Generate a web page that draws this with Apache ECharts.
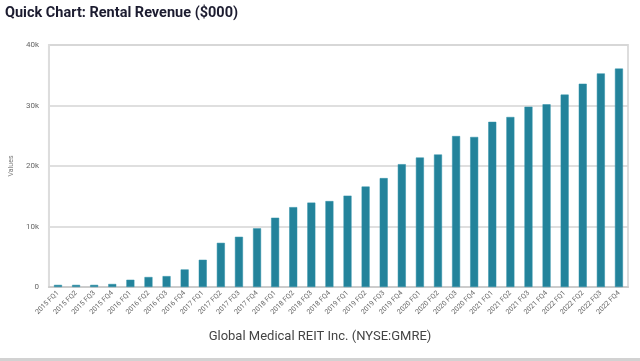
<!DOCTYPE html>
<html>
<head>
<meta charset="utf-8">
<script src="https://cdn.jsdelivr.net/npm/echarts@6/dist/echarts.min.js"></script>
<style>html,body{margin:0;padding:0;background:#fff}#c{width:640px;height:361px}</style>
</head>
<body>
<div id="c"></div>
<script>
const categories = ['2015 FQ1','2015 FQ2','2015 FQ3','2015 FQ4','2016 FQ1','2016 FQ2','2016 FQ3','2016 FQ4','2017 FQ1','2017 FQ2','2017 FQ3','2017 FQ4','2018 FQ1','2018 FQ2','2018 FQ3','2018 FQ4','2019 FQ1','2019 FQ2','2019 FQ3','2019 FQ4','2020 FQ1','2020 FQ2','2020 FQ3','2020 FQ4','2021 FQ1','2021 FQ2','2021 FQ3','2021 FQ4','2022 FQ1','2022 FQ2','2022 FQ3','2022 FQ4'];
const revenue = [350,350,350,500,1200,1650,1800,2900,4500,7300,8300,9700,11450,13200,13950,14200,15100,16600,18000,20300,21400,21900,24950,24800,27300,28100,29800,30200,31800,33600,35300,36100];
const yTicks = {min:0, max:40000, interval:10000};

const chart = echarts.init(document.getElementById('c'));
chart.setOption({
  animation:false,
  title:{text:'Quick Chart: Rental Revenue ($000)', left:0, top:1, textStyle:{fontFamily:'Roboto', fontWeight:'bold', fontSize:14.5, color:'#1c1c30'}},
  grid:{left:45, right:12, top:45, bottom:74, show:true, borderColor:'#dddddd', borderWidth:2, backgroundColor:'transparent'},
  xAxis:{type:'category', data:categories,
    axisLine:{lineStyle:{color:'#cccccc', width:2}}, axisTick:{show:false},
    axisLabel:{rotate:45, fontSize:7, color:'#666', fontFamily:'Roboto', interval:0, margin:5}},
  yAxis:{type:'value', min:yTicks.min, max:yTicks.max, interval:yTicks.interval,
    name:'Values', nameLocation:'middle', nameGap:33, nameTextStyle:{fontSize:7, color:'#777', fontFamily:'Roboto'},
    axisLine:{show:true, lineStyle:{color:'#dddddd', width:2}}, axisTick:{show:false},
    splitLine:{lineStyle:{color:'#d4d4d4', width:1.5}},
    axisLabel:{fontSize:8, color:'#666', fontFamily:'Roboto', margin:10, formatter:v=> v===0?'0':(v/1000)+'k'}},
  series:[{type:'bar', data:revenue, barWidth:8,
    itemStyle:{color:'#23839b', borderColor:'#2f90a8', borderWidth:0.5}}],
  graphic:[
    {type:'text', left:'center', top:330, style:{text:'Global Medical REIT Inc. (NYSE:GMRE)', fontSize:13, fontFamily:'Roboto', fill:'#444'}},
    {type:'rect', shape:{x:0, y:358, width:640, height:3}, style:{fill:'#d2d2d2'}}
  ]
});
</script>
</body>
</html>
